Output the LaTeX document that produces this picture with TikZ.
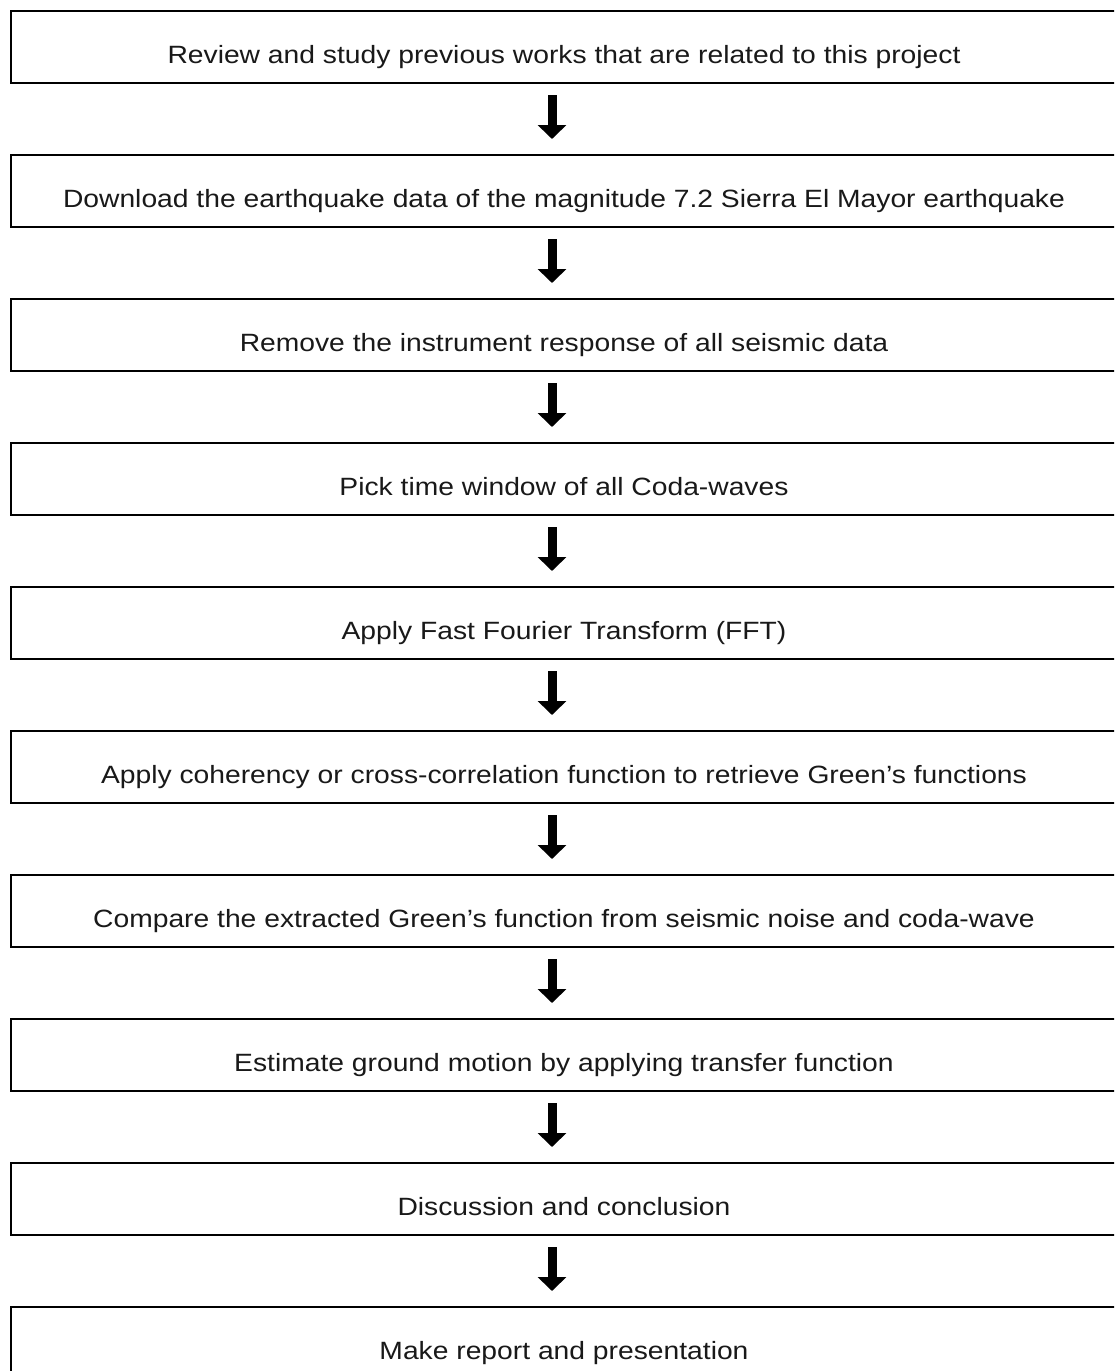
\documentclass[tikz,border=0pt]{standalone}
\usepackage{fontspec}
\setmainfont{Liberation Sans}
\newfontfamily\boxfont[FakeStretch=1.13]{Liberation Sans}
\usetikzlibrary{arrows.meta}
\begin{document}
\begin{tikzpicture}[x=1pt,y=-1pt,
  stepbox/.style={draw=black, line width=2pt, rectangle, anchor=north west,
    minimum width=1106pt, minimum height=72pt, inner sep=0pt,
    text height=34pt, text depth=2pt, font=\boxfont\fontsize{25}{30}\selectfont, text=black!90},
  flowarrow/.style={-{Triangle[length=14pt,width=28pt]}, line width=9pt, black,
    shorten <=11pt, shorten >=15pt}]
\clip (0,0) rectangle (1114,1371);
\fill[white] (0,0) rectangle (1114,1371);
\node[stepbox] (s1) at (10,10) {Review and study previous works that are related to this project};
\node[stepbox] (s2) at (10,154) {Download the earthquake data of the magnitude 7.2 Sierra El Mayor earthquake};
\node[stepbox] (s3) at (10,298) {Remove the instrument response of all seismic data};
\node[stepbox] (s4) at (10,442) {Pick time window of all Coda-waves};
\node[stepbox] (s5) at (10,586) {Apply Fast Fourier Transform (FFT)};
\node[stepbox] (s6) at (10,730) {Apply coherency or cross-correlation function to retrieve Green’s functions};
\node[stepbox] (s7) at (10,874) {Compare the extracted Green’s function from seismic noise and coda-wave};
\node[stepbox] (s8) at (10,1018) {Estimate ground motion by applying transfer function};
\node[stepbox] (s9) at (10,1162) {Discussion and conclusion};
\node[stepbox] (s10) at (10,1306) {Make report and presentation};
\foreach \a/\b in {s1/s2,s2/s3,s3/s4,s4/s5,s5/s6,s6/s7,s7/s8,s8/s9,s9/s10}
  \draw[flowarrow] ([xshift=-12pt]\a.south) -- ([xshift=-12pt]\b.north);
\end{tikzpicture}
\end{document}
